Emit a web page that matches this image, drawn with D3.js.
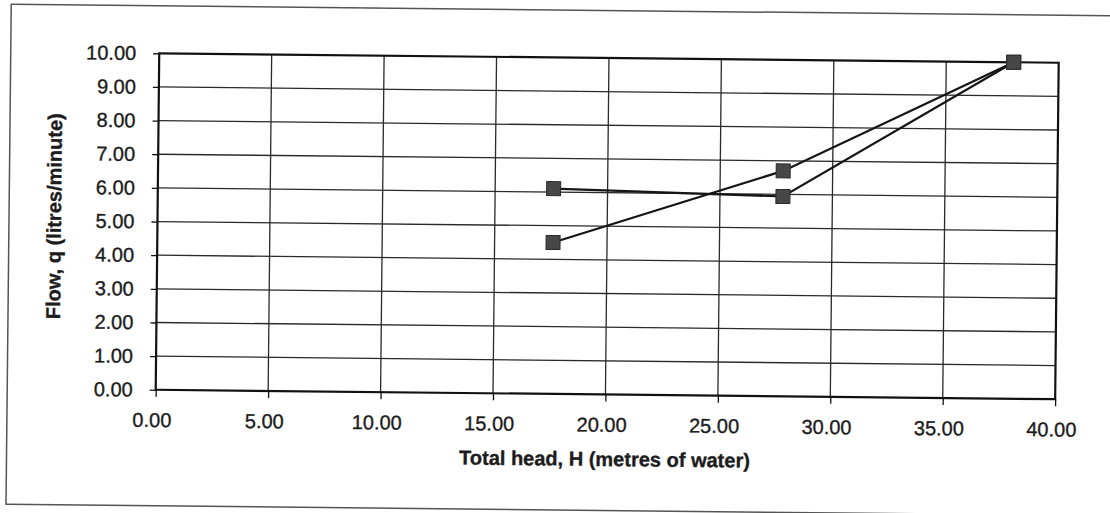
<!DOCTYPE html>
<html>
<head>
<meta charset="utf-8">
<script src="https://cdn.jsdelivr.net/npm/d3@7"></script>
<style>
  html, body { margin: 0; padding: 0; background: #fff; }
  svg { display: block; }
  text { font-family: "Liberation Sans", Arial, sans-serif; fill: #1c1c1c; stroke: #1c1c1c; stroke-width: 0.35px; }
</style>
</head>
<body>
<svg id="chart" width="1110" height="513"></svg>
<script>
// ---- data ----
const xTickValues = [0, 5, 10, 15, 20, 25, 30, 35, 40];
const yTickValues = [0, 1, 2, 3, 4, 5, 6, 7, 8, 9, 10];
const heads  = [17.6, 27.8, 38.0];
const flowA  = [6.1, 5.94, 10.0];
const flowB  = [4.5, 6.7, 10.0];
const xTitle = "Total head, H (metres of water)";
const yTitle = "Flow, q (litres/minute)";

// ---- layout ----
const W = 1110, H = 513;
const plot = { left: 157.5, right: 1057, top: 58, bottom: 394.5 };

const svg = d3.select("#chart");
const root = svg.append("g").attr("transform", "rotate(0.6, 607, 222)");

// outer frame
root.append("rect")
  .attr("x", 9).attr("y", 10.5)
  .attr("width", 1130).attr("height", 500)
  .attr("fill", "none").attr("stroke", "#555").attr("stroke-width", 1.5);

const x = d3.scaleLinear().domain([0, 40]).range([plot.left, plot.right]);
const y = d3.scaleLinear().domain([0, 10]).range([plot.bottom, plot.top]);

// gridlines
root.append("g").selectAll("line.h")
  .data(yTickValues.filter(v => v > 0 && v < 10))
  .join("line")
  .attr("x1", plot.left).attr("x2", plot.right)
  .attr("y1", d => y(d)).attr("y2", d => y(d))
  .attr("stroke", "#2a2a2a").attr("stroke-width", 1.3);
root.append("g").selectAll("line.v")
  .data(xTickValues.filter(v => v > 0 && v < 40))
  .join("line")
  .attr("y1", plot.top).attr("y2", plot.bottom)
  .attr("x1", d => x(d)).attr("x2", d => x(d))
  .attr("stroke", "#2a2a2a").attr("stroke-width", 1.3);

// plot border
root.append("rect")
  .attr("x", plot.left).attr("y", plot.top)
  .attr("width", plot.right - plot.left).attr("height", plot.bottom - plot.top)
  .attr("fill", "none").attr("stroke", "#111").attr("stroke-width", 2.2);

// axes
const fmt = d3.format(".2f");
const xAxis = root.append("g")
  .attr("transform", `translate(0,${plot.bottom})`)
  .call(d3.axisBottom(x).tickValues(xTickValues).tickFormat(fmt).tickSize(7).tickPadding(16).tickSizeOuter(0));
xAxis.select(".domain").remove();
xAxis.selectAll("line").attr("stroke", "#111").attr("stroke-width", 1.3);
xAxis.selectAll("text").attr("font-size", 20).attr("dx", -4)
  .attr("fill", "#1c1c1c").style("font-family", '"Liberation Sans", Arial, sans-serif');

const yAxis = root.append("g")
  .attr("transform", `translate(${plot.left},0)`)
  .call(d3.axisLeft(y).tickValues(yTickValues).tickFormat(fmt).tickSize(6).tickPadding(17).tickSizeOuter(0));
yAxis.select(".domain").remove();
yAxis.selectAll("line").attr("stroke", "#111").attr("stroke-width", 1.3);
yAxis.selectAll("text").attr("font-size", 20)
  .attr("fill", "#1c1c1c").style("font-family", '"Liberation Sans", Arial, sans-serif');

// titles
root.append("text")
  .attr("x", 607).attr("y", 466)
  .attr("text-anchor", "middle")
  .attr("font-size", 20).attr("font-weight", "bold")
  .text(xTitle);
root.append("text")
  .attr("transform", "translate(61,222) rotate(-90)")
  .attr("text-anchor", "middle")
  .attr("font-size", 20).attr("font-weight", "bold")
  .text(yTitle);

// series
const line = d3.line().x(d => x(d[0])).y(d => y(d[1]));
const seriesList = [flowA, flowB].map(f => heads.map((h, i) => [h, f[i]]));

root.append("g").selectAll("path")
  .data(seriesList)
  .join("path")
  .attr("d", line)
  .attr("fill", "none").attr("stroke", "#151515").attr("stroke-width", 2.2);

const ms = 14;
root.append("g").selectAll("rect")
  .data(seriesList.flat())
  .join("rect")
  .attr("x", d => x(d[0]) - ms / 2).attr("y", d => y(d[1]) - ms / 2)
  .attr("width", ms).attr("height", ms)
  .attr("fill", "#474747").attr("stroke", "#2a2a2a").attr("stroke-width", 1);
</script>
</body>
</html>
